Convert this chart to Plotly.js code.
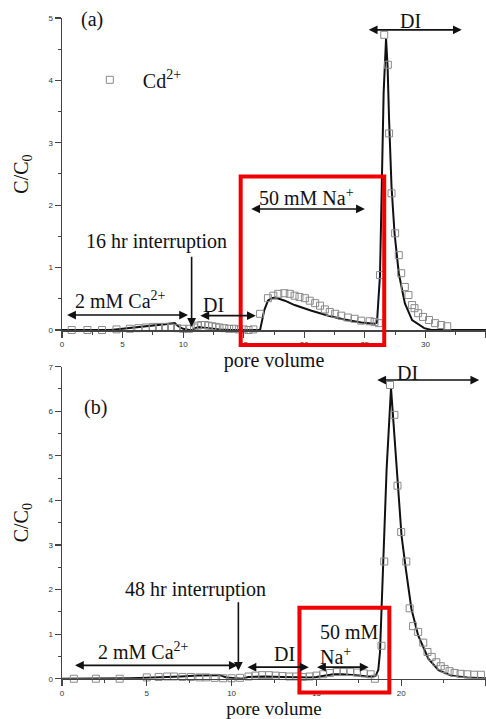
<!DOCTYPE html>
<html><head><meta charset="utf-8">
<script src="https://cdn.plot.ly/plotly-3.0.1.min.js"></script>
<style>html,body{margin:0;padding:0;background:#fff;overflow:hidden}</style>
</head><body><div id="chart" style="width:486px;height:719px"></div>
<script>
// ---- Panel (a): 16 hr interruption ----
var topMeasX = [0.8,2.1,3.3,4.5,5.6,6.3,6.9,7.5,8.0,8.5,9.0,9.5,10.0,10.5,10.9,11.2,11.5,11.8,12.1,12.4,12.7,13.0,13.4,13.8,14.2,14.6,15.0,15.4,15.8,16.35,17.0,17.45,17.85,18.35,18.8,19.2,19.6,20.05,20.45,20.9,21.3,21.7,22.1,22.55,23.05,23.6,24.15,24.7,25.4,25.8,26.15,26.25,26.6,26.9,27.0,27.2,27.5,27.8,28.0,28.3,28.6,28.9,29.1,29.4,29.8,30.3,30.8,31.3,31.8];
var topMeasY = [0,0,0,0.01,0.02,0.03,0.04,0.05,0.05,0.05,0.04,0.03,0.02,0.02,0.04,0.07,0.08,0.08,0.07,0.06,0.05,0.04,0.03,0.02,0.02,0.01,0.01,0,0.01,0.26,0.51,0.55,0.58,0.59,0.58,0.55,0.53,0.51,0.47,0.43,0.39,0.33,0.29,0.26,0.23,0.20,0.18,0.15,0.14,0.13,0.11,0.88,4.73,4.25,3.15,2.19,1.55,1.20,0.91,0.69,0.56,0.40,0.35,0.27,0.21,0.16,0.11,0.08,0.06];
var topSimX = [0,2,4,5,6,7,8,9,9.3,9.6,10,10.5,10.8,11.0,11.3,11.6,12,13,14,15,16,16.35,16.7,17.0,17.3,17.6,18.4,19.2,20.6,22.0,23.3,24.7,25.8,26.0,26.25,26.4,26.55,26.75,26.88,27.0,27.2,27.45,27.8,28.3,28.9,29.9,30.5,35];
var topSimY = [0,0,0,0.02,0.04,0.06,0.08,0.10,0.11,0.06,0.02,0,0,0.03,0.05,0.04,0.03,0.01,0,0,0,0,0.32,0.47,0.51,0.52,0.47,0.40,0.31,0.23,0.17,0.12,0.10,0.12,0.88,2.3,3.8,4.67,4.2,3.37,2.3,1.55,0.91,0.43,0.16,0.03,0,0];

// ---- Panel (b): 48 hr interruption ----
var botMeasX = [0.7,2.0,3.4,5.0,5.7,6.2,6.6,7.1,7.6,8.1,8.5,9.0,9.5,10.0,10.5,11.0,11.4,11.8,12.2,12.6,13.0,13.4,13.8,14.2,14.6,15.0,15.4,15.8,16.2,16.6,17.0,17.4,17.8,18.2,18.45,18.84,19.0,19.34,19.6,19.78,20.0,20.3,20.5,20.7,21.0,21.3,21.55,21.8,22.07,22.33,22.56,22.85,23.15,23.5,23.9,24.3,24.7];
var botMeasY = [0,0,0,0.03,0.04,0.05,0.05,0.04,0.04,0.03,0.03,0.02,0.01,0.01,0.02,0.05,0.07,0.08,0.08,0.07,0.06,0.05,0.05,0.04,0.05,0.07,0.10,0.13,0.15,0.15,0.15,0.14,0.12,0.10,0.0,0.74,2.63,6.59,5.92,4.33,3.29,2.63,1.58,1.18,1.05,0.81,0.60,0.49,0.37,0.28,0.22,0.17,0.13,0.11,0.10,0.09,0.09];
var botSimX = [0,2,4,5,6,7,8,9,9.3,9.7,10.2,10.6,11,11.5,12,13,14,14.6,15,15.5,16,16.5,17,17.5,18,18.3,18.5,18.65,18.75,18.85,18.95,19.14,19.4,19.73,20.02,20.27,20.6,21.0,21.6,22.2,22.95,23.9,25];
var botSimY = [0,0,0.01,0.02,0.03,0.05,0.07,0.08,0.08,0.03,0.01,0.0,0.04,0.05,0.05,0.04,0.03,0.03,0.04,0.07,0.10,0.10,0.09,0.07,0.05,0.05,0.07,0.2,0.6,1.57,2.47,4.7,6.52,4.7,3.21,2.47,1.57,0.97,0.45,0.19,0.07,0.03,0.01];

var seriesName = 'Cd<sup>2+</sup>';
var xTitle = 'pore volume';
var yTitle = 'C/C<sub>0</sub>';

var serif = 'Liberation Serif, Times New Roman, serif';
var sans = 'Liberation Sans, Arial, sans-serif';
var FS = 20;

var markerStyle = {symbol:'square-open', size:7, color:'#8a8a8a', line:{width:1, color:'#8a8a8a'}};
var lineStyle = {color:'#111', width:2};

var traces = [
  {x: topSimX, y: topSimY, xaxis:'x', yaxis:'y', mode:'lines', line: lineStyle, showlegend:false, hoverinfo:'skip'},
  {x: topMeasX, y: topMeasY, xaxis:'x', yaxis:'y', mode:'markers', marker: markerStyle, name: seriesName, showlegend:true, cliponaxis:false},
  {x: botSimX, y: botSimY, xaxis:'x2', yaxis:'y2', mode:'lines', line: lineStyle, showlegend:false, hoverinfo:'skip'},
  {x: botMeasX, y: botMeasY, xaxis:'x2', yaxis:'y2', mode:'markers', marker: markerStyle, name: seriesName, showlegend:false, cliponaxis:false}
];

function axisX(range, anchor, tsize){
  return {range: range, anchor: anchor, showline:true, linecolor:'#444', linewidth:1.5,
    showgrid:false, zeroline:false, ticks:'outside', ticklen:6, tickwidth:1.2, tickcolor:'#444',
    dtick:5, tick0:0, tickfont:{family:sans, size:8, color:'#333'},
    minor:{dtick:2.5, ticks:'outside', ticklen:3, tickcolor:'#444', tickwidth:1},
    title:{text:xTitle, font:{family:serif, size:tsize, color:'#111'}, standoff:0}};
}
function axisY(range, domain, anchor){
  return {range: range, domain: domain, anchor: anchor, showline:true, linecolor:'#444', linewidth:1.5,
    showgrid:false, zeroline:false, ticks:'outside', ticklen:6, tickwidth:1.2, tickcolor:'#444',
    dtick:1, tick0:0, tickfont:{family:sans, size:8, color:'#333'},
    minor:{dtick:0.5, ticks:'outside', ticklen:3, tickcolor:'#444', tickwidth:1},
    title:{text:yTitle, font:{family:serif, size:20, color:'#111'}, standoff:14}};
}

function txt(xr, yr, x, y, t, opts){
  var a = {xref:xr, yref:yr, x:x, y:y, text:t, showarrow:false,
    font:{family:serif, size:FS, color:'#111'}, xanchor:'center', yanchor:'middle'};
  for (var k in (opts||{})) a[k] = opts[k];
  return a;
}
function harrow(xr, yr, x0, x1, y){
  return {xref:xr, yref:yr, axref:xr, ayref:yr, x:x1, y:y, ax:x0, ay:y, text:'',
    showarrow:true, arrowhead:2, arrowside:'end+start', arrowsize:1.1, arrowwidth:1.6, arrowcolor:'#111', standoff:0, startstandoff:0};
}
function varrow(xr, yr, x, y0, y1){
  return {xref:xr, yref:yr, axref:xr, ayref:yr, x:x, y:y1, ax:x, ay:y0, text:'',
    showarrow:true, arrowhead:2, arrowsize:1.1, arrowwidth:1.6, arrowcolor:'#111', standoff:0};
}

var annotations = [
  // panel a
  txt('x','y',2.5,4.97,'(a)'),
  txt('x','y',4.8,0.48,'2 mM Ca<sup>2+</sup>'),
  harrow('x','y',0.3,10.4,0.24),
  txt('x','y',7.8,1.42,'16 hr interruption'),
  varrow('x','y',10.7,1.2,0.05),
  txt('x','y',12.5,0.40,'DI'),
  harrow('x','y',11.3,16.0,0.23),
  txt('x','y',20.2,2.13,'50 mM Na<sup>+</sup>'),
  harrow('x','y',15.5,25.0,1.94),
  txt('x','y',28.8,4.95,'DI'),
  harrow('x','y',25.2,33.0,4.81),
  // panel b
  txt('x2','y2',2.0,6.08,'(b)'),
  txt('x2','y2',4.8,0.62,'2 mM Ca<sup>2+</sup>'),
  harrow('x2','y2',0.68,10.36,0.3),
  txt('x2','y2',7.85,2.0,'48 hr interruption'),
  varrow('x2','y2',10.4,1.75,0.18),
  txt('x2','y2',13.1,0.56,'DI'),
  harrow('x2','y2',10.85,14.55,0.26),
  txt('x2','y2',15.1,1.04,'50 mM',{xanchor:'left'}),
  txt('x2','y2',15.1,0.52,'Na<sup>+</sup>',{xanchor:'left'}),
  harrow('x2','y2',14.95,18.08,0.26),
  txt('x2','y2',20.4,6.86,'DI'),
  harrow('x2','y2',18.5,24.6,6.7)
];

var shapes = [
  {type:'rect', xref:'x domain', yref:'y domain', x0:14.75/35, x1:26.6/35, y0:-0.24/5, y1:2.46/5,
   line:{color:'#f00000', width:4}, fillcolor:'rgba(0,0,0,0)'},
  {type:'rect', xref:'x2 domain', yref:'y2 domain', x0:14.0/25, x1:19.3/25, y0:-0.31/7, y1:1.59/7,
   line:{color:'#f00000', width:4}, fillcolor:'rgba(0,0,0,0)'}
];

var layout = {
  width:486, height:719, margin:{l:62, r:0, t:0, b:0}, paper_bgcolor:'#fff', plot_bgcolor:'#fff',
  xaxis: axisX([0,35],'y',20),
  yaxis: axisY([0,5],[0.541,0.975],'x'),
  xaxis2: axisX([0,25],'y2',19),
  yaxis2: axisY([0,7],[0.056,0.490],'x2'),
  showlegend:true,
  legend:{x:0.035, y:0.889, xanchor:'left', yanchor:'middle', bgcolor:'rgba(0,0,0,0)',
    font:{family:serif, size:20, color:'#111'}, itemwidth:56},
  annotations: annotations,
  shapes: shapes
};

Plotly.newPlot('chart', traces, layout, {displayModeBar:false, staticPlot:true});
</script></body></html>
